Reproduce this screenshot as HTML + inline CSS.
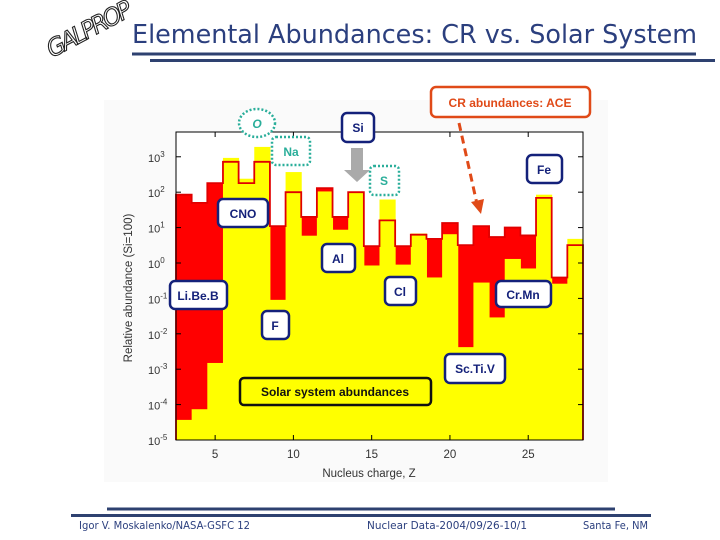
<!DOCTYPE html>
<html><head><meta charset="utf-8"><style>
body{margin:0;background:#fff;}
svg{display:block;}
.lab{font-family:"Liberation Sans",sans-serif;font-weight:bold;}
</style></head><body>
<svg id="s" width="720" height="540" viewBox="0 0 720 540" xmlns="http://www.w3.org/2000/svg">
<rect x="104" y="100" width="504" height="382" fill="#fafafa"/>
<g transform="translate(52,58) rotate(-28)">
<text x="0" y="0" font-family="DejaVu Sans, sans-serif" font-size="24" font-style="italic" fill="#fff" stroke="#222" stroke-width="1.1" letter-spacing="-3" textLength="90" lengthAdjust="spacingAndGlyphs">GALPROP</text>
</g>
<text x="132" y="43" font-family="DejaVu Sans, Liberation Sans, sans-serif" font-size="25.5" fill="#2b3f7e" textLength="565" lengthAdjust="spacingAndGlyphs">Elemental Abundances: CR vs. Solar System</text>
<rect x="132" y="52.5" width="564" height="3" fill="#2e4170"/>
<rect x="150" y="59" width="565" height="3" fill="#2e4170"/>

<g id="plot"></g>

<g class="lab" font-size="12">
<ellipse cx="257" cy="123" rx="18" ry="14" fill="#fff" stroke="#2aae9a" stroke-width="2.5" stroke-dasharray="2,2"/>
<text x="257" y="128" text-anchor="middle" fill="#2aae9a" font-style="italic">O</text>
<rect x="342" y="113" width="32" height="29" rx="5" fill="#fff" stroke="#14217a" stroke-width="2.5"/>
<text x="358" y="132" text-anchor="middle" fill="#14217a">Si</text>
<rect x="272" y="137" width="38" height="28" rx="4" fill="#fff" stroke="#2aae9a" stroke-width="2.5" stroke-dasharray="2,2"/>
<text x="291" y="156" text-anchor="middle" fill="#2aae9a">Na</text>
<path d="M351,148 h12 v22 h7 l-13,12 l-13,-12 h7 z" fill="#aaaaaa"/>
<rect x="370" y="166" width="29" height="29" rx="4" fill="#fff" stroke="#2aae9a" stroke-width="2.5" stroke-dasharray="2,2"/>
<text x="384" y="185" text-anchor="middle" fill="#2aae9a">S</text>
<rect x="527" y="155" width="35" height="28" rx="5" fill="#fff" stroke="#14217a" stroke-width="2.5"/>
<text x="544" y="174" text-anchor="middle" fill="#14217a">Fe</text>
<rect x="218" y="199" width="50" height="28" rx="5" fill="#fff" stroke="#14217a" stroke-width="2.5"/>
<text x="243" y="218" text-anchor="middle" fill="#14217a">CNO</text>
<rect x="322" y="244" width="33" height="28" rx="5" fill="#fff" stroke="#14217a" stroke-width="2.5"/>
<text x="338" y="263" text-anchor="middle" fill="#14217a">Al</text>
<rect x="170" y="281" width="57" height="28" rx="5" fill="#fff" stroke="#14217a" stroke-width="2.5"/>
<text x="198" y="300" text-anchor="middle" fill="#14217a">Li.Be.B</text>
<rect x="385" y="277" width="31" height="28" rx="5" fill="#fff" stroke="#14217a" stroke-width="2.5"/>
<text x="400" y="296" text-anchor="middle" fill="#14217a">Cl</text>
<rect x="496" y="281" width="55" height="26" rx="5" fill="#fff" stroke="#14217a" stroke-width="2.5"/>
<text x="523" y="299" text-anchor="middle" fill="#14217a">Cr.Mn</text>
<rect x="262" y="311" width="27" height="28" rx="5" fill="#fff" stroke="#14217a" stroke-width="2.5"/>
<text x="275" y="330" text-anchor="middle" fill="#14217a">F</text>
<rect x="445" y="354" width="60" height="29" rx="5" fill="#fff" stroke="#14217a" stroke-width="2.5"/>
<text x="475" y="373" text-anchor="middle" fill="#14217a">Sc.Ti.V</text>
<rect x="240" y="378" width="191" height="27" rx="4" fill="#ffff00" stroke="#111" stroke-width="2.5"/>
<text x="335" y="396" text-anchor="middle" fill="#111">Solar system abundances</text>
<rect x="431" y="87" width="159" height="30" rx="5" fill="#fff" stroke="#e04a18" stroke-width="2.5"/>
<text x="510" y="107" text-anchor="middle" fill="#e04a18">CR abundances: ACE</text>
<line x1="459" y1="123" x2="477" y2="204" stroke="#e04a18" stroke-width="3" stroke-dasharray="8,5"/>
<path d="M471,202 l10,12 l3,-15 z" fill="#e04a18"/>
</g>

<rect x="107" y="507.5" width="508" height="3" fill="#2e4170"/>
<rect x="71" y="514" width="580" height="3" fill="#2e4170"/>
<g font-family="DejaVu Sans, Liberation Sans, sans-serif" font-size="10.5" fill="#2b3f7e">
<text x="79" y="529" textLength="171" lengthAdjust="spacingAndGlyphs">Igor V. Moskalenko/NASA-GSFC  12</text>
<text x="367" y="529" textLength="160" lengthAdjust="spacingAndGlyphs">Nuclear Data-2004/09/26-10/1</text>
<text x="583" y="529" textLength="65" lengthAdjust="spacingAndGlyphs">Santa Fe, NM</text>
</g>
</svg>
<script>
const charges = [3,4,5,6,7,8,9,10,11,12,13,14,15,16,17,18,19,20,21,22,23,24,25,26,27,28];
const crValues = [85,50,180,720,180,720,11,100,20,130,20,100,3,16,3,6.3,4.8,13.5,3.2,11,5.4,10,6,69,0.39,3.2];
const solarValues = [3.7e-5,7.4e-5,1.5e-3,930,240,1900,0.091,370,5.9,105,8.7,100,0.85,62,0.9,6.8,0.39,6.5,0.0042,0.28,0.029,1.3,0.7,85,0.26,4.8];
const xTicks = [5,10,15,20,25];
const yTickExps = [-5,-4,-3,-2,-1,0,1,2,3];

const NS = 'http://www.w3.org/2000/svg';
const L = 176, R = 583, T = 132, B = 440;
const zMin = 2.5, zMax = 28.5, lMin = -5, lMax = 3.7;
const xs = z => L + (z - zMin) / (zMax - zMin) * (R - L);
const ys = v => B - (Math.log10(v) - lMin) / (lMax - lMin) * (B - T);
const g = document.getElementById('plot');
function mk(tag, attrs) { const e = document.createElementNS(NS, tag); for (const k in attrs) e.setAttribute(k, attrs[k]); g.appendChild(e); return e; }

const bg = mk('rect', {x: L, y: T, width: R - L, height: B - T, fill: '#fff'});



charges.forEach((z, i) => {
  const y = ys(crValues[i]);
  const r = mk('rect', {x: xs(z - 0.5), y: y, width: xs(z + 0.5) - xs(z - 0.5) + 0.5, height: B - y, fill: '#ff0000'});
  
  
});
charges.forEach((z, i) => {
  const y = ys(solarValues[i]);
  const r = mk('rect', {x: xs(z - 0.5), y: y, width: xs(z + 0.5) - xs(z - 0.5) + 0.5, height: B - y, fill: '#ffff00'});
  
  
});
let d = '';
charges.forEach((z, i) => {
  const y = ys(crValues[i]);
  d += (i === 0 ? 'M' + xs(z - 0.5) + ',' + B + ' L' : ' L') + xs(z - 0.5) + ',' + y + ' L' + xs(z + 0.5) + ',' + y;
});
d += ' L' + xs(charges[charges.length - 1] + 0.5) + ',' + B;
const step = mk('path', {d: d, fill: 'none', stroke: '#e00000', 'stroke-width': 1.8});



const frame = mk('rect', {x: L, y: T, width: R - L, height: B - T, fill: 'none', stroke: '#000', 'stroke-width': 1});



yTickExps.forEach(e => {
  const y = ys(Math.pow(10, e));
  const t1 = mk('line', {x1: L, x2: L + 5, y1: y, y2: y, stroke: '#000'});
  
  
  const t2 = mk('line', {x1: R - 5, x2: R, y1: y, y2: y, stroke: '#000'});
  
  
  const tx = mk('text', {x: 148, y: y + 5, 'font-family': 'Liberation Sans, sans-serif', 'font-size': 11, fill: '#333'});
  
  
  tx.textContent = '10';
  const sup = document.createElementNS(NS, 'tspan');
  sup.setAttribute('dy', -5); sup.setAttribute('font-size', 8);
  sup.textContent = String(e);
  tx.appendChild(sup);
});
xTicks.forEach(z => {
  const x = xs(z);
  const t1 = mk('line', {x1: x, x2: x, y1: B, y2: B - 5, stroke: '#000'});
  
  
  const t2 = mk('line', {x1: x, x2: x, y1: T, y2: T + 5, stroke: '#000'});
  
  
  const tx = mk('text', {x: x, y: 458, 'text-anchor': 'middle', 'font-family': 'Liberation Sans, sans-serif', 'font-size': 11.5, fill: '#333'});
  
  
  tx.textContent = z;
});
const xt = mk('text', {x: 369, y: 477, 'text-anchor': 'middle', 'font-family': 'Liberation Sans, sans-serif', 'font-size': 11.5, fill: '#333'});


xt.textContent = 'Nucleus charge, Z';
const yt = mk('text', {x: 0, y: 0, 'text-anchor': 'middle', 'font-family': 'Liberation Sans, sans-serif', 'font-size': 11.5, fill: '#333', transform: 'translate(132,288) rotate(-90)'});


yt.textContent = 'Relative abundance (Si=100)';
</script>
</body></html>
